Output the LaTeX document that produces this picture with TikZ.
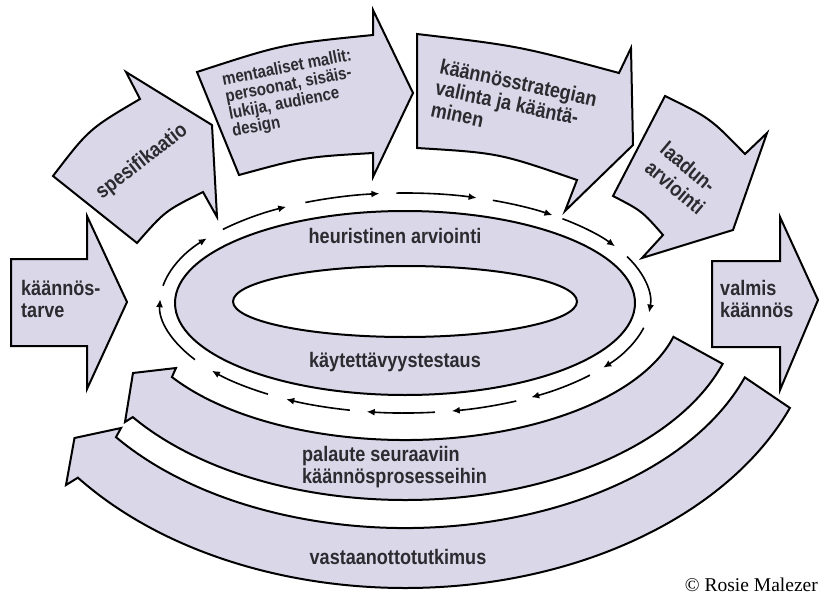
\documentclass[tikz,border=0pt]{standalone}
\usepackage{fontspec}
\setmainfont{Liberation Sans}
\newfontfamily\labelfont{Liberation Sans}[FakeStretch=0.86]
\newfontfamily\creditfont{Liberation Serif}
\usetikzlibrary{arrows.meta}
\definecolor{bandfill}{HTML}{DAD7E9}
\definecolor{labeltext}{HTML}{2B2B30}

\begin{document}
\begin{tikzpicture}[x=1pt, y=-1pt,
    band/.style={draw=black, line width=2pt, fill=bandfill},
    lbl/.style={text=labeltext, font=\labelfont\fontsize{21}{22}\selectfont\bfseries, inner sep=0pt, align=left},
    flow/.style={line width=1.6pt, -{Latex[length=8pt,width=7pt]}}]
    \fill[white] (0,0) rectangle (819,594);
    \useasboundingbox (0,0) rectangle (819,594);

    % Feedback bands and the evaluation ring
    \begin{scope}[shift={(405,303)}]
        \draw[band] (19.3:360 and 225) arc[start angle=19.3, end angle=143.4, x radius=360, y radius=225]
            -- (-284,125) -- (-330.5,135) -- (-339,182)
            -- (142.2:414 and 285) arc[start angle=142.2, end angle=21.6, x radius=414, y radius=285] -- cycle;
        \draw[band] (14.3:277 and 137) arc[start angle=14.3, end angle=147.3, x radius=277, y radius=137]
            -- (-229,65) -- (-272,70) -- (-280,119)
            -- (144.6:334 and 197) arc[start angle=144.6, end angle=18, x radius=334, y radius=197] -- cycle;
        \draw[band, even odd rule] (0,0) ellipse [x radius=230, y radius=92]
            (0,-1.5) ellipse [x radius=172, y radius=35.5];

        % Circulation arrows
        \foreach \a/\b in {189/216, 222/241, 246/264, 268/287, 291/307, 310/329, 335/365,
                           373/396, 401/419, 423/439, 443/459, 463/479, 484/502, 509/542} {
            \draw[flow] (\a:245 and 110) arc[start angle=\a, end angle=\b, x radius=245, y radius=110];
        }
    \end{scope}

    % Process arrows
    \draw[band] (11,259) -- (87,259) -- (87,216) -- (127,302) -- (87,389) -- (87,346) -- (11,346) -- cycle;
    \draw[band] (53,176) .. controls (89,129) .. (140,99) -- (126,72) -- (212,125) -- (217,217)
        -- (203,192) .. controls (165,211) .. (137,243) -- cycle;
    \draw[band] (197,72) .. controls (283,44) .. (373,35) -- (373,10) -- (413,93) -- (373,177)
        -- (373,153) .. controls (305,157) .. (239,175) -- cycle;
    \draw[band] (417,34) .. controls (519,46) .. (619,73) -- (631,48) -- (633,145) -- (565,211)
        -- (577,180) .. controls (499,153) .. (417,148) -- cycle;
    \draw[band] (665,96) .. controls (710,118) .. (745,154) -- (767,133) -- (733,230) -- (642,258)
        -- (663,235) .. controls (642,211) .. (613,196) -- cycle;
    \draw[band] (712,261) -- (780,261) -- (780,217) -- (818,300) -- (780,390) -- (780,347) -- (712,347) -- cycle;

    % Labels
    \node[lbl, anchor=west] (need) at (21,299) {käännös-\\tarve};
    \node[lbl, rotate=38] (spec) at (142,162) {spesifikaatio};
    \node[lbl, rotate=11, font=\labelfont\fontsize{17.5}{17.5}\selectfont\bfseries] (models) at (292,94)
        {mentaaliset mallit:\\persoonat, sisäis-\\lukija, audience\\design};
    \node[lbl, rotate=-12] (strategy) at (514,104) {käännösstrategian\\valinta ja kääntä-\\minen};
    \node[lbl, rotate=-40, font=\labelfont\fontsize{21}{24}\selectfont\bfseries] (quality) at (683,178)
        {laadun-\\arviointi};
    \node[lbl, anchor=west] (ready) at (720,299) {valmis\\käännös};
    \node[lbl] (heur) at (395,236) {heuristinen arviointi};
    \node[lbl] (usab) at (395,362) {käytettävyystestaus};
    \node[lbl, anchor=west] (feedback) at (302,467) {palaute seuraaviin\\käännösprosesseihin};
    \node[lbl] (reception) at (398,557) {vastaanottotutkimus};
    \node[anchor=base east, inner sep=0pt, font=\creditfont\fontsize{19.5}{22}\selectfont] (credit)
        at (818,591) {© Rosie Malezer};
\end{tikzpicture}
\end{document}
